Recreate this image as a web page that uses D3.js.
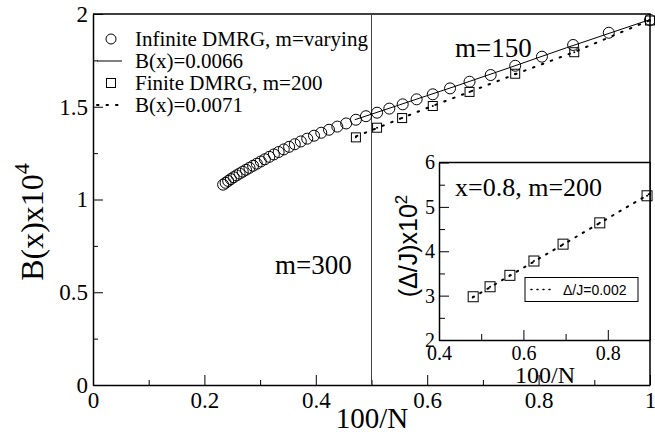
<!DOCTYPE html>
<html>
<head>
<meta charset="utf-8">
<script src="https://cdn.jsdelivr.net/npm/d3@7"></script>
<style>
  body { margin: 0; background: #fff; }
  text { font-family: "Liberation Serif", "Times New Roman", serif; fill: #000; }
  .sans { font-family: "Liberation Sans", Arial, sans-serif; }
</style>
</head>
<body>
<div id="chart"></div>
<script>
// data
// infinite DMRG (circles), x = 100/N
let infX = [1.000, 0.926, 0.862, 0.806, 0.758, 0.714, 0.676, 0.641, 0.610, 0.581, 0.556, 0.532, 0.510, 0.490,
  0.472, 0.4545, 0.4386, 0.4237, 0.4098, 0.3968, 0.3846, 0.3731, 0.3623, 0.3521, 0.3425, 0.3333, 0.3247,
  0.3165, 0.3086, 0.3012, 0.2941, 0.2874, 0.2809, 0.2747, 0.2688, 0.2632, 0.2577, 0.2525, 0.2475, 0.2427,
  0.2381, 0.2336]
let infY = [1.968, 1.899, 1.833, 1.770, 1.721, 1.671, 1.635, 1.599, 1.567, 1.540, 1.513, 1.490, 1.468, 1.449,
  1.430, 1.410, 1.393, 1.376, 1.360, 1.344, 1.328, 1.313, 1.298, 1.284, 1.270, 1.256, 1.243,
  1.230, 1.217, 1.205, 1.193, 1.182, 1.171, 1.160, 1.150, 1.140, 1.130, 1.120, 1.110, 1.100,
  1.090, 1.080]

// fit B(x)=0.0066 (solid)
let fitInfX = [0.470, 0.550, 0.650, 0.750, 0.850, 1.000]
let fitInfY = [1.430, 1.510, 1.610, 1.713, 1.818, 1.970]

// finite DMRG m=200 (squares)
let finX = [0.472, 0.510, 0.555, 0.610, 0.676, 0.758, 0.864, 1.000]
let finY = [1.335, 1.387, 1.439, 1.504, 1.580, 1.678, 1.794, 1.965]

// fit B(x)=0.0071 (dotted)
let fitFinX = [0.472, 0.510, 0.555, 0.610, 0.676, 0.758, 0.864, 1.000]
let fitFinY = [1.340, 1.385, 1.440, 1.505, 1.580, 1.675, 1.795, 1.967]

// inset: gap (Δ/J)x10^2
let gapX = [0.481, 0.521, 0.568, 0.625, 0.694, 0.781, 0.893]
let gapY = [2.975, 3.200, 3.457, 3.780, 4.160, 4.640, 5.250]
let gapFitX = [0.480, 0.900]
let gapFitY = [2.960, 5.300]

let xTicks = [0, 0.2, 0.4, 0.6, 0.8, 1]
let xMinor = [0.1, 0.3, 0.5, 0.7, 0.9]
let yTicks = [0, 0.5, 1, 1.5, 2]
let yMinor = [0.25, 0.75, 1.25, 1.75]
let inXTicks = [0.4, 0.6, 0.8]
let inXMinor = [0.5, 0.7]
let inYTicks = [2, 3, 4, 5, 6]
let inYMinor = [2.5, 3.5, 4.5, 5.5]

let svgWidth = 655
let svgHeight = 435

let margin = {left: 93, right: 5, top: 14, bottom: 50}
let width = svgWidth - margin.left - margin.right
let height = svgHeight - margin.top - margin.bottom

let root = d3.select('#chart')
  .append('svg')
  .attr('width', svgWidth)
  .attr('height', svgHeight)

let svg = root.append('g')
  .attr('transform', `translate(${margin.left},${margin.top})`)

let xScale = d3.scaleLinear().domain([0, 1]).range([0, width])
let yScale = d3.scaleLinear().domain([0, 2]).range([height, 0])

let fmt = d => d3.format('~g')(d)

// axes with inward ticks
function drawAxes(g, x, y, opt) {
  g.append('g')
    .attr('transform', `translate(0,${opt.h})`)
    .call(d3.axisBottom(x).tickValues(opt.xMinor).tickSize(-opt.minor).tickFormat(''))
    .call(a => a.select('.domain').remove())
  g.append('g')
    .attr('transform', `translate(0,${opt.h})`)
    .call(d3.axisBottom(x).tickValues(opt.xTicks).tickSizeInner(-opt.major).tickSizeOuter(0)
      .tickPadding(opt.pad).tickFormat(fmt))
    .attr('font-size', opt.fs)
    .attr('font-family', null)
  g.append('g')
    .call(d3.axisLeft(y).tickValues(opt.yMinor).tickSize(-opt.minor).tickFormat(''))
    .call(a => a.select('.domain').remove())
  g.append('g')
    .call(d3.axisLeft(y).tickValues(opt.yTicks).tickSizeInner(-opt.major).tickSizeOuter(0)
      .tickPadding(opt.pad - 2).tickFormat(fmt))
    .attr('font-size', opt.fs)
    .attr('font-family', null)
  g.selectAll('.domain').attr('stroke-width', 1.5)
  g.selectAll('.tick line').attr('stroke-width', 1)
  // top/right frame
  g.append('path')
    .attr('d', `M0,0H${opt.w}V${opt.h}`)
    .attr('fill', 'none')
    .attr('stroke', '#000')
    .attr('stroke-width', 1.5)
}

drawAxes(svg, xScale, yScale, {
  w: width, h: height, xTicks, xMinor, yTicks, yMinor, major: 10, minor: 5, pad: 7, fs: 23
})

// vertical line at 100/N = 0.5
svg.append('line')
  .attr('x1', xScale(0.5)).attr('x2', xScale(0.5))
  .attr('y1', yScale(0)).attr('y2', yScale(2))
  .attr('stroke', '#444')
  .attr('stroke-width', 1)

let line = d3.line().x(d => xScale(d[0])).y(d => yScale(d[1]))

svg.append('path')
  .attr('d', line(d3.zip(fitInfX, fitInfY)))
  .attr('fill', 'none')
  .attr('stroke', '#000')
  .attr('stroke-width', 1)

svg.append('path')
  .attr('d', line(d3.zip(fitFinX, fitFinY)))
  .attr('fill', 'none')
  .attr('stroke', '#000')
  .attr('stroke-width', 2)
  .attr('stroke-dasharray', '1.5,8')
  .attr('stroke-linecap', 'round')

svg.selectAll('circle.inf')
  .data(d3.zip(infX, infY))
  .join('circle')
  .attr('class', 'inf')
  .attr('cx', d => xScale(d[0]))
  .attr('cy', d => yScale(d[1]))
  .attr('r', 5.5)
  .attr('fill', 'none')
  .attr('stroke', '#000')
  .attr('stroke-width', 1)

function squares(g, xs, ys, sx, sy, size) {
  let pts = d3.zip(xs, ys)
  g.selectAll(null)
    .data(pts)
    .join('rect')
    .attr('x', d => sx(d[0]) - size / 2)
    .attr('y', d => sy(d[1]) - size / 2)
    .attr('width', size)
    .attr('height', size)
    .attr('fill', 'none')
    .attr('stroke', '#000')
    .attr('stroke-width', 1)
  g.selectAll(null)
    .data(pts)
    .join('circle')
    .attr('cx', d => sx(d[0]))
    .attr('cy', d => sy(d[1]))
    .attr('r', 1)
    .attr('fill', '#000')
}

squares(svg, finX, finY, xScale, yScale, 9)

// axis titles
root.append('text')
  .attr('x', 372).attr('y', 428)
  .attr('text-anchor', 'middle')
  .attr('font-size', 29)
  .text('100/N')

root.append('text')
  .attr('transform', 'translate(43,222) rotate(-90)')
  .attr('text-anchor', 'middle')
  .attr('font-size', 32)
  .text('B(x)x10')
  .append('tspan')
  .attr('dy', -14)
  .attr('font-size', 22)
  .text('4')

// annotations
root.append('text').attr('x', 455).attr('y', 57).attr('font-size', 27).text('m=150')
root.append('text').attr('x', 275).attr('y', 274).attr('font-size', 27).text('m=300')

// legend
let leg = root.append('g')
let legRows = [
  {label: 'Infinite DMRG, m=varying', y: 39, kind: 'circle'},
  {label: 'B(x)=0.0066', y: 61, kind: 'solid'},
  {label: 'Finite DMRG, m=200', y: 83, kind: 'square'},
  {label: 'B(x)=0.0071', y: 105, kind: 'dotted'}
]
legRows.forEach(r => {
  if (r.kind == 'circle') {
    leg.append('circle').attr('cx', 111).attr('cy', r.y).attr('r', 5)
      .attr('fill', 'none').attr('stroke', '#000')
  } else if (r.kind == 'square') {
    leg.append('rect').attr('x', 106.5).attr('y', r.y - 4.5).attr('width', 9).attr('height', 9)
      .attr('fill', 'none').attr('stroke', '#000')
  } else if (r.kind == 'solid') {
    leg.append('line').attr('x1', 97).attr('x2', 122).attr('y1', r.y).attr('y2', r.y)
      .attr('stroke', '#000')
  } else {
    leg.append('line').attr('x1', 97).attr('x2', 122).attr('y1', r.y).attr('y2', r.y)
      .attr('stroke', '#000').attr('stroke-width', 2)
      .attr('stroke-dasharray', '1.5,8').attr('stroke-linecap', 'round')
  }
  leg.append('text').attr('x', 135).attr('y', r.y + 7).attr('font-size', 21).text(r.label)
})

// inset
let inset = {left: 439, top: 162.5, width: 211, height: 177.5}
let ig = root.append('g').attr('transform', `translate(${inset.left},${inset.top})`)
ig.append('rect')
  .attr('width', inset.width).attr('height', inset.height)
  .attr('fill', '#fff')

let ix = d3.scaleLinear().domain([0.4, 0.9]).range([0, inset.width])
let iy = d3.scaleLinear().domain([2, 6]).range([inset.height, 0])

drawAxes(ig, ix, iy, {
  w: inset.width, h: inset.height, xTicks: inXTicks, xMinor: inXMinor, yTicks: inYTicks, yMinor: inYMinor,
  major: 10, minor: 6, pad: 6, fs: 20
})

let iline = d3.line().x(d => ix(d[0])).y(d => iy(d[1]))
ig.append('path')
  .attr('d', iline(d3.zip(gapFitX, gapFitY)))
  .attr('fill', 'none')
  .attr('stroke', '#000')
  .attr('stroke-width', 2)
  .attr('stroke-dasharray', '1.5,7')
  .attr('stroke-linecap', 'round')

squares(ig, gapX, gapY, ix, iy, 10)

ig.append('text').attr('x', 16).attr('y', 33).attr('font-size', 26).text('x=0.8, m=200')

// inset legend box
ig.append('rect')
  .attr('x', 86).attr('y', 115).attr('width', 113).attr('height', 24)
  .attr('fill', '#fff').attr('stroke', '#000').attr('stroke-width', 1)
ig.append('line').attr('x1', 92).attr('x2', 116).attr('y1', 127).attr('y2', 127)
  .attr('stroke', '#000').attr('stroke-width', 1.5)
  .attr('stroke-dasharray', '1,5').attr('stroke-linecap', 'round')
ig.append('text').attr('class', 'sans').attr('x', 124).attr('y', 132.5).attr('font-size', 14)
  .text('Δ/J=0.002')

root.append('text')
  .attr('x', 545).attr('y', 383)
  .attr('text-anchor', 'middle')
  .attr('font-size', 24)
  .text('100/N')

root.append('text')
  .attr('class', 'sans')
  .attr('transform', 'translate(417,246) rotate(-90)')
  .attr('text-anchor', 'middle')
  .attr('font-size', 25)
  .text('(Δ/J)x10')
  .append('tspan')
  .attr('dy', -10)
  .attr('font-size', 17)
  .text('2')
</script>
</body>
</html>
